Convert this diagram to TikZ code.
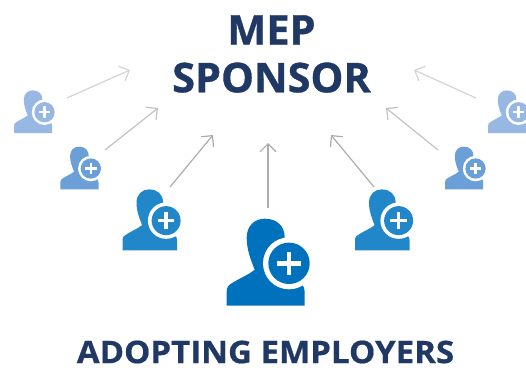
\documentclass[tikz,border=0pt]{standalone}
\usepackage{fontspec}
\setmainfont{Open Sans}[BoldFont={Open Sans Bold}]
\newfontfamily\titlefont{Open Sans Bold}[FakeBold=0.8,FakeStretch=1.01]
\newfontfamily\subfont{Open Sans Bold}[FakeBold=0.6,FakeStretch=1.066]
\usetikzlibrary{arrows.meta}
\definecolor{titleblue}{HTML}{1F3864}
\definecolor{ca}{HTML}{0071BC}
\definecolor{cb}{HTML}{2287C9}
\definecolor{cc}{HTML}{6A9FD8}
\definecolor{cd}{HTML}{97B8E2}
\tikzset{
  x=1pt,y=-1pt,
  titletext/.style={font=\titlefont\fontsize{41}{47.7}\selectfont,text=titleblue,align=center,inner sep=0pt},
  subtext/.style={font=\subfont\fontsize{31}{36}\selectfont,text=titleblue,inner sep=0pt},
  conn/.style={-{Straight Barb[length=8pt,width=16pt]},line width=1.2pt},
  person/.pic={
    \fill[pic actions] (0,0) -- (0,-14) .. controls (0,-19) and (2,-21) .. (6,-23)
      .. controls (14,-28) and (22,-31) .. (28,-36)
      .. controls (24,-46) and (20,-56) .. (20,-68)
      .. controls (20,-80) and (28,-87) .. (38,-87)
      .. controls (50,-87) and (58,-80) .. (58,-68)
      -- (62,-30) -- (74,-22) .. controls (77,-20) and (78,-17) .. (78,-14)
      -- (78,0) -- cycle;
    \fill[white] (62.3,-42.4) circle (26);
    \fill[pic actions] (62.3,-42.4) circle (20.7);
    \fill[white] (50.6,-44.8) rectangle (74,-40);
    \fill[white] (59.9,-54.1) rectangle (64.7,-30.7);
  }
}
\begin{document}
\begin{tikzpicture}
\useasboundingbox[clip] (0,0) rectangle (526,369);
\fill[white] (0,0) rectangle (526,369);
\node[titletext] (title) at (271.5,54) {MEP\\SPONSOR};
\node[subtext] (sub) at (265.5,352) {ADOPTING EMPLOYERS};
\pic[fill=ca,transform shape] at (226.7,305.7) {person};
\pic[fill=cb,scale=.70,transform shape] at (122.5,250.3) {person};
\pic[fill=cb,scale=.70,transform shape] at (355,250.3) {person};
\pic[fill=cc,scale=.49,transform shape] at (60.3,189.3) {person};
\pic[fill=cc,scale=.49,transform shape] at (445,189.3) {person};
\pic[fill=cd,scale=.49,transform shape] at (14,133) {person};
\pic[fill=cd,scale=.49,transform shape] at (488,133) {person};
\coordinate (a1) at (67,98);  \coordinate (b1) at (130,70);
\coordinate (a2) at (105,150);\coordinate (b2) at (158,108);
\coordinate (a3) at (170,187);\coordinate (b3) at (213,135);
\coordinate (a4) at (268,208);\coordinate (b4) at (268,143);
\coordinate (a5) at (374,187);\coordinate (b5) at (331,135);
\coordinate (a6) at (438,150);\coordinate (b6) at (386,108);
\coordinate (a7) at (476,98); \coordinate (b7) at (414,70);
\draw[conn,draw=black!32] (a4) -- (b4);
\draw[conn,draw=black!32] (a3) -- (b3);
\draw[conn,draw=black!32] (a5) -- (b5);
\draw[conn,draw=black!24] (a2) -- (b2);
\draw[conn,draw=black!24] (a6) -- (b6);
\draw[conn,draw=black!17] (a1) -- (b1);
\draw[conn,draw=black!17] (a7) -- (b7);
\end{tikzpicture}
\end{document}
